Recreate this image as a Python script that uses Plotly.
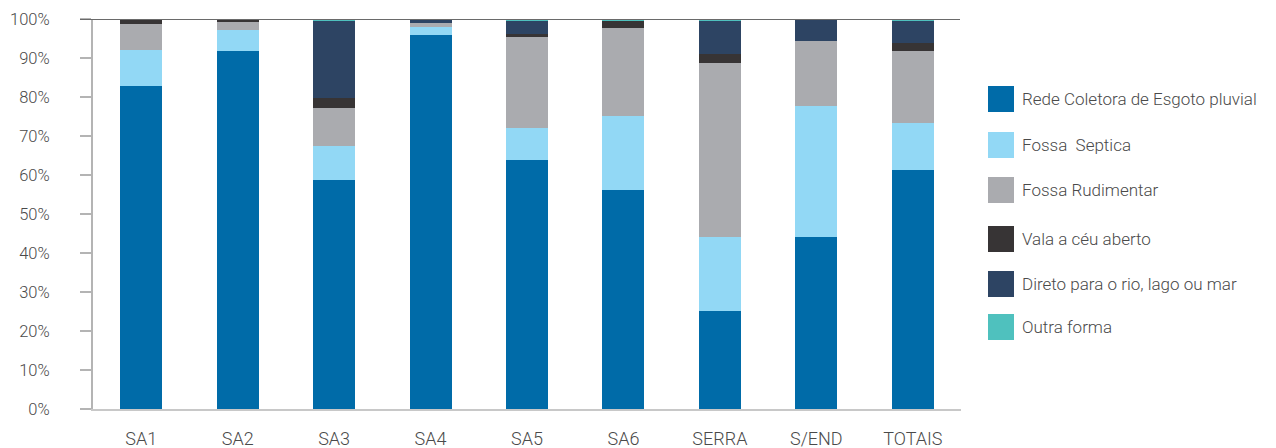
import plotly.graph_objects as go

categories = ["SA1", "SA2", "SA3", "SA4", "SA5", "SA6", "SERRA", "S/END", "TOTAIS"]

rede_coletora = [82.8, 91.8, 58.7, 95.9, 63.8, 56.2, 25.1, 44.1, 61.3]
fossa_septica = [9.3, 5.4, 8.7, 2.0, 8.3, 18.9, 19.0, 33.6, 12.0]
fossa_rudimentar = [6.6, 2.0, 9.8, 1.1, 23.3, 22.6, 44.6, 16.7, 18.5]
vala_ceu_aberto = [1.3, 0.8, 2.5, 0.0, 0.8, 1.7, 2.3, 0.0, 2.0]
direto_rio = [0.0, 0.0, 19.7, 1.0, 3.2, 0.0, 8.4, 5.6, 5.6]
outra_forma = [0.0, 0.0, 0.6, 0.0, 0.6, 0.6, 0.6, 0.0, 0.6]

series_names = [
    "Rede Coletora de Esgoto pluvial",
    "Fossa  Septica",
    "Fossa Rudimentar",
    "Vala a céu aberto",
    "Direto para o rio, lago ou mar",
    "Outra forma",
]
series_values = [rede_coletora, fossa_septica, fossa_rudimentar,
                 vala_ceu_aberto, direto_rio, outra_forma]
colors = ["#006BA8", "#92D8F5", "#AAABAF", "#373435", "#2D4463", "#4FC1BE"]

y_ticks = list(range(0, 101, 10))
y_tick_labels = [f"{v}%" for v in y_ticks]

FONT = "Roboto"
TEXT_COLOR = "#4a4a4a"

fig = go.Figure()
for name, vals, col in zip(series_names, series_values, colors):
    fig.add_trace(go.Bar(x=categories, y=vals, name=name,
                         marker=dict(color=col, line=dict(width=0)),
                         showlegend=False))

W, H = 1276, 448
ml, mr, mt, mb = 93, 315, 19, 39
pw, ph = W - ml - mr, H - mt - mb

fig.update_layout(
    width=W, height=H,
    margin=dict(l=ml, r=mr, t=mt, b=mb, pad=0, autoexpand=False),
    barmode="stack",
    bargap=0.564,
    plot_bgcolor="white", paper_bgcolor="white",
    font=dict(family=FONT, color=TEXT_COLOR, size=15, weight=300),
)
fig.update_yaxes(
    range=[0, 100], tickvals=y_ticks, ticktext=y_tick_labels,
    showgrid=False, zeroline=False, automargin=False,
    showline=True, linecolor="#b4b4b4", linewidth=2,
    ticks="outside", ticklen=11, tickwidth=2, tickcolor="#b4b4b4",
    ticklabelstandoff=27,
    tickfont=dict(family=FONT, size=16.5, color=TEXT_COLOR, weight=300),
)
fig.update_xaxes(
    showgrid=False, zeroline=False, automargin=False,
    showline=True, linecolor="#c8c8c8", linewidth=2,
    ticks="", ticklabelstandoff=12,
    tickfont=dict(family=FONT, size=18, color=TEXT_COLOR, weight=300),
)

# top reference line at 100%
fig.add_shape(type="line", xref="paper", yref="y",
              x0=(80 - ml) / pw, x1=(960 - ml) / pw, y0=100, y1=100,
              line=dict(color="#6a6a6a", width=2), layer="above")

# manual legend
legend_centers_px = [99, 145, 190, 239, 284, 327]
sq = 26
for name, col, cy in zip(series_names, colors, legend_centers_px):
    x0 = (988 - ml) / pw
    x1 = (988 + sq - ml) / pw
    y0 = (H - mb - (cy + sq / 2)) / ph
    y1 = (H - mb - (cy - sq / 2)) / ph
    fig.add_shape(type="rect", xref="paper", yref="paper",
                  x0=x0, x1=x1, y0=y0, y1=y1,
                  fillcolor=col, line=dict(width=0))
    fig.add_annotation(xref="paper", yref="paper",
                       x=(1020 - ml) / pw, y=(H - mb - cy) / ph,
                       text=name.replace("  ", "\u00a0 "), showarrow=False,
                       xanchor="left", yanchor="middle",
                       font=dict(family=FONT, size=17, color=TEXT_COLOR, weight=300))

fig.write_html("out.html")
